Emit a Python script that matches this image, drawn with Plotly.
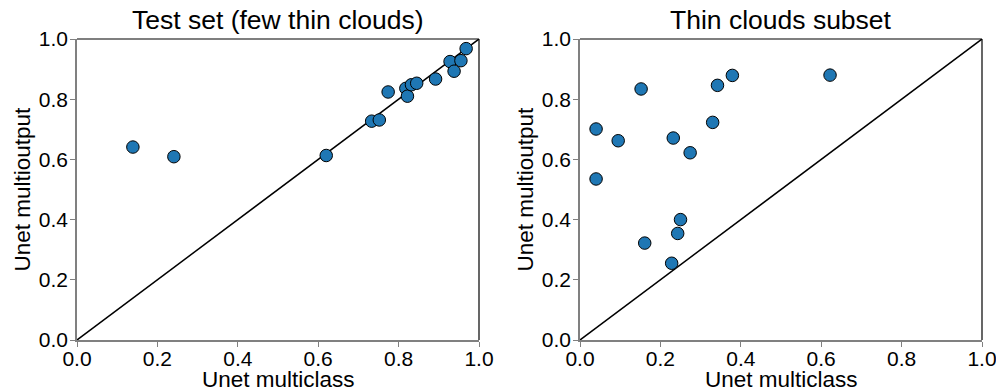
import plotly.graph_objects as go

# Left panel: Test set (few thin clouds)
test_multiclass = [0.139, 0.241, 0.620, 0.733, 0.752, 0.774, 0.818, 0.822, 0.832, 0.845,
                   0.892, 0.928, 0.938, 0.955, 0.968]
test_multioutput = [0.641, 0.609, 0.613, 0.727, 0.731, 0.824, 0.836, 0.810, 0.848, 0.853,
                    0.867, 0.925, 0.893, 0.928, 0.968]

# Right panel: Thin clouds subset
thin_multiclass = [0.040, 0.040, 0.095, 0.152, 0.161, 0.228, 0.232, 0.243, 0.250, 0.274,
                   0.330, 0.342, 0.379, 0.622]
thin_multioutput = [0.701, 0.535, 0.662, 0.834, 0.322, 0.255, 0.671, 0.354, 0.400, 0.622,
                    0.723, 0.846, 0.879, 0.880]

titles = ["Test set (few thin clouds)", "Thin clouds subset"]
x_label = "Unet multiclass"
y_label = "Unet multioutput"
ticks = [0.0, 0.2, 0.4, 0.6, 0.8, 1.0]
tick_text = ["0.0", "0.2", "0.4", "0.6", "0.8", "1.0"]
identity = [0.0, 1.0]

FONT = "Liberation Sans, Arial, sans-serif"
# page body has an 8px margin, so the figure is drawn 8px smaller
W, H = 996, 382
x_domains = [[69 / W, 471 / W], [572 / W, 974 / W]]
y_domain = [50 / H, 351 / H]

fig = go.Figure()
data = [(test_multiclass, test_multioutput), (thin_multiclass, thin_multioutput)]
for i, (xs, ys) in enumerate(data):
    xa = "x" if i == 0 else "x2"
    ya = "y" if i == 0 else "y2"
    fig.add_trace(go.Scatter(x=identity, y=identity, mode="lines",
                             line=dict(color="black", width=1.5),
                             xaxis=xa, yaxis=ya, showlegend=False, hoverinfo="skip"))
    fig.add_trace(go.Scatter(x=xs, y=ys, mode="markers",
                             marker=dict(size=12.5, color="#1f77b4",
                                         line=dict(color="black", width=1)),
                             xaxis=xa, yaxis=ya, showlegend=False, cliponaxis=False))

axis_common = dict(range=[0, 1], tickvals=ticks, ticktext=tick_text,
                   ticks="outside", ticklen=5, tickwidth=1.2, tickcolor="#808080",
                   showline=True, linecolor="#808080", linewidth=1.5,
                   showgrid=False, zeroline=False, automargin=False,
                   tickfont=dict(family=FONT, size=21, color="black"),
                   fixedrange=True)

layout = dict(width=W, height=H, margin=dict(l=0, r=0, t=0, b=0, autoexpand=False),
              plot_bgcolor="white", paper_bgcolor="white",
              font=dict(family=FONT, color="black"))
for i in range(2):
    sx = "" if i == 0 else "2"
    layout["xaxis" + sx] = dict(axis_common, domain=x_domains[i], anchor="y" + sx,
                                ticklabelstandoff=-6)
    layout["yaxis" + sx] = dict(axis_common, domain=y_domain, anchor="x" + sx,
                                ticklabelstandoff=-2)
fig.update_layout(**layout)

shapes = []
annotations = []
for i in range(2):
    sx = "" if i == 0 else "2"
    xr = "x" + sx + " domain"
    yr = "y" + sx + " domain"
    # top and right spines in black
    shapes.append(dict(type="line", xref=xr, yref=yr, x0=0, x1=1, y0=1, y1=1,
                       line=dict(color="black", width=1.2)))
    shapes.append(dict(type="line", xref=xr, yref=yr, x0=1, x1=1, y0=0, y1=1,
                       line=dict(color="black", width=1.2)))
    annotations.append(dict(text=titles[i], xref=xr, yref="paper",
                            x=0.5, y=1 - 12 / H, yanchor="middle", xanchor="center",
                            showarrow=False, font=dict(family=FONT, size=26.5, color="black")))
    annotations.append(dict(text=x_label, xref=xr, yref="paper",
                            x=0.5, y=(H - 371) / H, yanchor="middle", xanchor="center",
                            showarrow=False, font=dict(family=FONT, size=22.5, color="black")))
    left_px = x_domains[i][0] * W - 55
    annotations.append(dict(text=y_label, xref="paper", yref=yr,
                            x=left_px / W, y=0.5, yanchor="middle", xanchor="center",
                            textangle=-90,
                            showarrow=False, font=dict(family=FONT, size=22.5, color="black")))
fig.update_layout(shapes=shapes, annotations=annotations)

fig.write_html("out.html")
